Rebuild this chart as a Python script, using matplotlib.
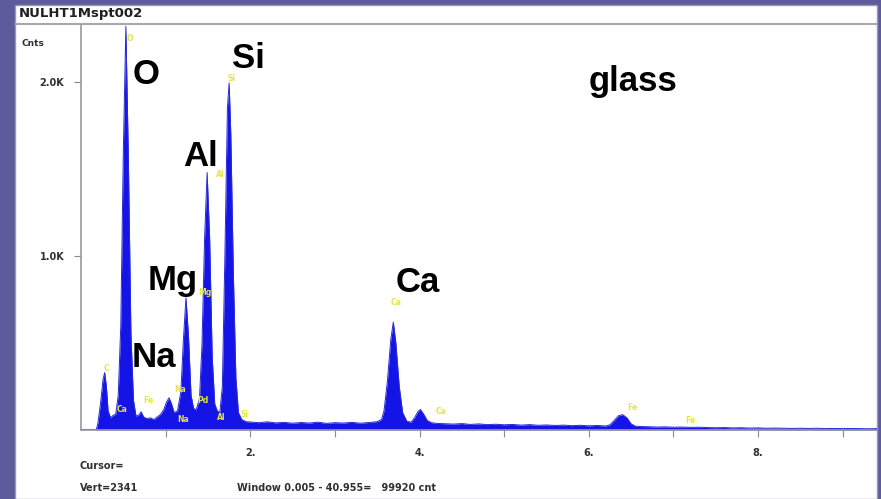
# EDS spectrum screenshot "NULHT1Mspt002" (glass)
import matplotlib.pyplot as plt
from matplotlib.patches import Rectangle
from matplotlib.lines import Line2D

# spectrum: energy (keV) and counts
energy_kev = [
    0.18, 0.20, 0.23, 0.26, 0.28, 0.30, 0.32, 0.35, 0.38, 0.41,
    0.44, 0.47, 0.50, 0.53, 0.56, 0.59, 0.62, 0.65, 0.68, 0.71,
    0.74, 0.78, 0.82, 0.86, 0.90, 0.94, 0.98, 1.01, 1.04, 1.07,
    1.10, 1.14, 1.18, 1.21, 1.24, 1.27, 1.30, 1.33, 1.36, 1.40,
    1.43, 1.46, 1.49, 1.52, 1.55, 1.58, 1.61, 1.64, 1.67, 1.70,
    1.73, 1.75, 1.77, 1.80, 1.83, 1.86, 1.90, 1.95,
    2.0, 2.1, 2.2, 2.3, 2.4, 2.5, 2.6, 2.7, 2.8, 2.9,
    3.0, 3.1, 3.2, 3.3, 3.4, 3.5, 3.55,
    3.58, 3.62, 3.66, 3.69, 3.72, 3.76, 3.80, 3.85, 3.90, 3.94,
    3.98, 4.01, 4.05, 4.09, 4.14, 4.2,
    4.3, 4.4, 4.5, 4.6, 4.7, 4.8, 4.9, 5.0, 5.1, 5.2,
    5.3, 5.4, 5.5, 5.6, 5.7, 5.8, 5.9, 6.0, 6.1, 6.2,
    6.25, 6.3, 6.35, 6.40, 6.45, 6.5, 6.55, 6.6,
    6.7, 6.8, 6.9, 7.0, 7.1, 7.2, 7.3, 7.4, 7.5, 7.6,
    7.7, 7.8, 7.9, 8.0, 8.1, 8.2, 8.3, 8.4, 8.5, 8.6,
    8.7, 8.8, 8.9, 9.0, 9.1, 9.2, 9.3, 9.4,
]
counts = [
    0, 40, 150, 290, 330, 250, 110, 70, 85, 90,
    200, 600, 1600, 2320, 1550, 550, 170, 80, 85, 105,
    75, 65, 70, 60, 75, 90, 120, 160, 185, 150,
    100, 110, 220, 520, 760, 540, 200, 125, 115, 180,
    500, 1100, 1480, 1100, 420, 150, 110, 100, 250, 1000,
    1850, 1995, 1700, 900, 300, 100, 60, 48,
    46, 42, 47, 41, 44, 39, 43, 40, 45, 38,
    42, 40, 44, 39, 43, 48, 60,
    110, 280, 520, 620, 500, 250, 100, 50, 45, 70,
    105, 118, 90, 55, 42, 38,
    36, 34, 37, 32, 35, 31, 33, 30, 32, 28,
    31, 27, 29, 26, 28, 25, 27, 24, 26, 23,
    30, 55, 82, 88, 70, 35, 22, 20,
    19, 17, 18, 16, 17, 15, 16, 14, 13, 14,
    12, 13, 11, 12, 10, 11, 10, 9, 10, 9,
    10, 8, 9, 8, 9, 8, 7, 8,
]

# big element labels (energy, counts at baseline)
big_labels = ['O', 'Si', 'Al', 'Mg', 'Ca', 'Na', 'glass']
big_x = [0.77, 1.98, 1.41, 1.08, 3.98, 0.86, 6.52]
big_y = [1990, 2080, 1520, 805, 793, 362, 1950]

# small yellow peak markers
mark_labels = ['O', 'Si', 'Al', 'Mg', 'C', 'Ca', 'Fe', 'Na', 'Na', 'Pd', 'Al', 'Si', 'Ca', 'Ca', 'Fe', 'Fe']
mark_x = [0.58, 1.78, 1.64, 1.46, 0.30, 0.48, 0.80, 1.17, 1.21, 1.44, 1.66, 1.93, 3.72, 4.25, 6.52, 7.20]
mark_y = [2250, 2020, 1470, 790, 355, 115, 170, 230, 60, 170, 70, 90, 735, 105, 130, 55]

W, H = 881, 499


def fx(x):
    return x / W


def fy(y):
    return 1 - y / H


fig = plt.figure(figsize=(8.81, 4.99), dpi=100)
fig.patch.set_facecolor('#5d5b9c')

# white window + title bar, behind the axes
fig.add_artist(Rectangle((fx(15), 0), fx(877) - fx(15), fy(5), transform=fig.transFigure,
                         facecolor='white', edgecolor='#9a9aae', lw=1, zorder=-10))
fig.add_artist(Line2D([fx(16), fx(876)], [fy(24), fy(24)], transform=fig.transFigure,
                      color='#a8a8a8', lw=1.5, zorder=-9))
fig.text(fx(19), fy(14), 'NULHT1Mspt002', fontsize=9.5, fontweight='bold',
         family='Liberation Sans Narrow', va='center', color='#202020')

ax = fig.add_axes([fx(81), fy(430), fx(877) - fx(81), fy(25) - fy(430)])
ax.patch.set_alpha(0)
ax.fill_between(energy_kev, counts, color='#1414e6', lw=0)
ax.plot(energy_kev, counts, color='#2a2ad8', lw=0.7)
ax.axhline(0, color='#3030d8', lw=1.5)
ax.set_xlim(0, (877 - 80.7) / 84.67)
ax.set_ylim(0, 2328)

for s in ['top', 'right']:
    ax.spines[s].set_visible(False)
for s in ['left', 'bottom']:
    ax.spines[s].set_color('#9a9a9a')
    ax.spines[s].set_linewidth(1.2)

ax.set_xticks(range(1, 10))
ax.set_xticklabels(['', '2.', '', '4.', '', '6.', '', '8.', ''])
ax.set_yticks([1000, 2000])
ax.set_yticklabels(['1.0K', '2.0K'])
ax.tick_params(direction='out', length=5, color='#8a8a8a', labelsize=7,
               labelcolor='#303030')
ax.tick_params(axis='x', pad=8)
ax.tick_params(axis='y', pad=7)
for lab in ax.get_xticklabels() + ax.get_yticklabels():
    lab.set_fontweight('bold')

for t, x, y in zip(big_labels, big_x, big_y):
    ax.text(x, y, t, fontsize=25, fontweight='bold', family='Liberation Sans',
            ha='center', va='baseline', color='black')

for t, x, y in zip(mark_labels, mark_x, mark_y):
    ax.text(x, y, t, fontsize=5.5, fontweight='bold', ha='center', va='center',
            color='#e6e640')

fig.text(fx(22), fy(44), 'Cnts', fontsize=6.5, fontweight='bold', va='center', color='#303030')
fig.text(fx(80), fy(466), 'Cursor=', fontsize=7, fontweight='bold', va='center', color='#303030')
fig.text(fx(80), fy(488), 'Vert=2341', fontsize=7, fontweight='bold', va='center', color='#303030')
fig.text(fx(237), fy(488), 'Window 0.005 - 40.955=   99920 cnt', fontsize=7,
         fontweight='bold', va='center', color='#303030')

fig.savefig('out.png', dpi=100, facecolor=fig.get_facecolor())
